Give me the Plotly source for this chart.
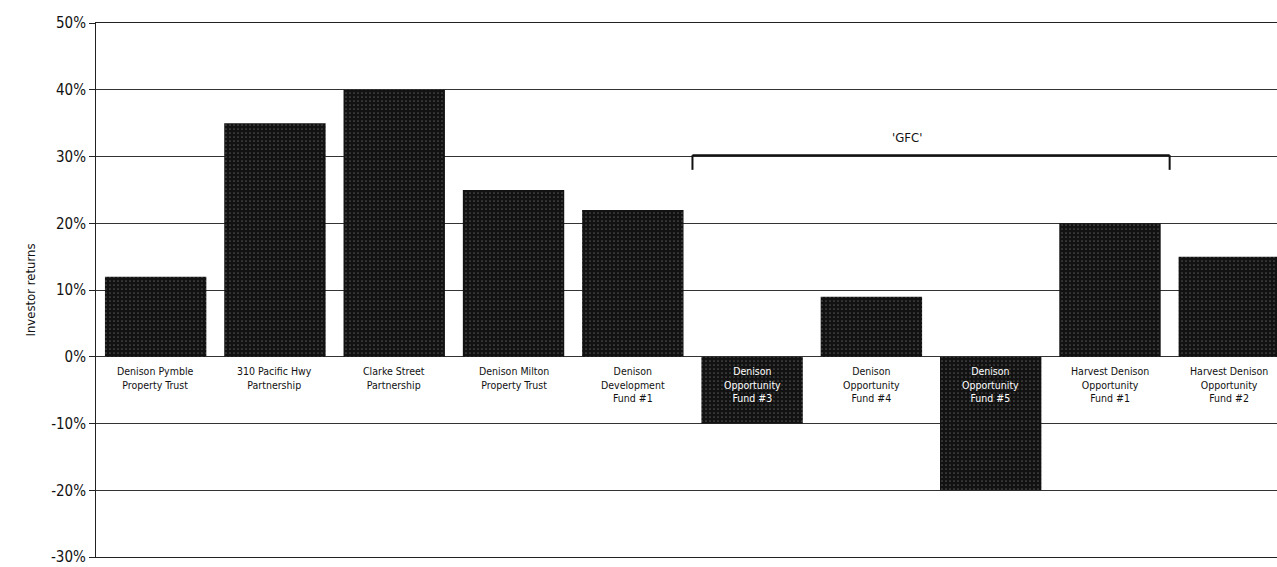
import plotly.graph_objects as go

categories = [
    "Denison Pymble<br>Property Trust",
    "310 Pacific Hwy<br>Partnership",
    "Clarke Street<br>Partnership",
    "Denison Milton<br>Property Trust",
    "Denison<br>Development<br>Fund #1",
    "Denison<br>Opportunity<br>Fund #3",
    "Denison<br>Opportunity<br>Fund #4",
    "Denison<br>Opportunity<br>Fund #5",
    "Harvest Denison<br>Opportunity<br>Fund #1",
    "Harvest Denison<br>Opportunity<br>Fund #2",
]
returns_pct = [12, 35, 40, 25, 22, -10, 9, -20, 20, 15]
y_ticks = [-30, -20, -10, 0, 10, 20, 30, 40, 50]
y_tick_text = ["-30%", "-20%", "-10%", "0%", "10%", "20%", "30%", "40%", "50%"]
gfc_label = "'GFC'"
gfc_start_idx, gfc_end_idx = 5, 8  # categories covered by GFC bracket
gfc_level = 30.2

FONT = "DejaVu Sans Condensed, Liberation Sans Narrow, Arial Narrow, sans-serif"
xs = list(range(len(categories)))

fig = go.Figure()
fig.add_trace(go.Bar(
    x=xs, y=returns_pct, width=0.85,
    marker=dict(color="#1c1c1c", line=dict(width=0),
                pattern=dict(shape=".", fgcolor="#8a8a8a", bgcolor="#121212",
                             size=4, solidity=0.15)),
    hoverinfo="skip",
))

annotations = []
for i, (c, v) in enumerate(zip(categories, returns_pct)):
    annotations.append(dict(
        x=i, y=-1, xref="x", yref="y", text=c, showarrow=False,
        yanchor="top", xanchor="center", align="center",
        font=dict(family=FONT, size=10.5, color="white" if v < 0 else "#111"),
    ))
annotations.append(dict(
    x=6.3, y=32.9, xref="x", yref="y", text=gfc_label, showarrow=False,
    font=dict(family=FONT, size=13, color="#111"),
))
# bottom tick label drawn as annotation (Plotly drops it near the page edge)
annotations.append(dict(
    x=0, xref="paper", y=y_ticks[0], yref="y", text=y_tick_text[0], showarrow=False,
    xanchor="right", yanchor="middle", xshift=-8,
    font=dict(family=FONT, size=15, color="#111"),
))
axis_tick_text = [""] + y_tick_text[1:]

x0 = gfc_start_idx - 0.5
x1 = gfc_end_idx + 0.5
shapes = [
    dict(type="line", xref="x", yref="y", x0=x0, x1=x1, y0=gfc_level, y1=gfc_level,
         line=dict(color="#111", width=2)),
    dict(type="line", xref="x", yref="y", x0=x0, x1=x0, y0=gfc_level, y1=gfc_level - 2.2,
         line=dict(color="#111", width=2)),
    dict(type="line", xref="x", yref="y", x0=x1, x1=x1, y0=gfc_level, y1=gfc_level - 2.2,
         line=dict(color="#111", width=2)),
]

fig.update_layout(
    width=1277, height=567,
    margin=dict(l=96, r=0, t=23, b=10),
    plot_bgcolor="white", paper_bgcolor="white",
    showlegend=False,
    bargap=0.15,
    annotations=annotations,
    shapes=shapes,
    font=dict(family=FONT, color="#111"),
)
fig.update_xaxes(
    range=[-0.5, 9.4], showticklabels=False, showgrid=False, zeroline=False,
    showline=True, linecolor="#222", linewidth=1, mirror=True, ticks="",
)
fig.update_yaxes(
    range=[-30, 50], tickvals=y_ticks, ticktext=axis_tick_text,
    showgrid=True, gridcolor="#333", gridwidth=1,
    zeroline=True, zerolinecolor="#333", zerolinewidth=1,
    showline=True, linecolor="#222", linewidth=1,
    ticks="outside", ticklen=6, tickcolor="#222",
    tickfont=dict(family=FONT, size=15, color="#111"),
    title=dict(text="Investor returns", font=dict(family=FONT, size=13, color="#111"), standoff=12),
)

fig.write_html("out.html")
